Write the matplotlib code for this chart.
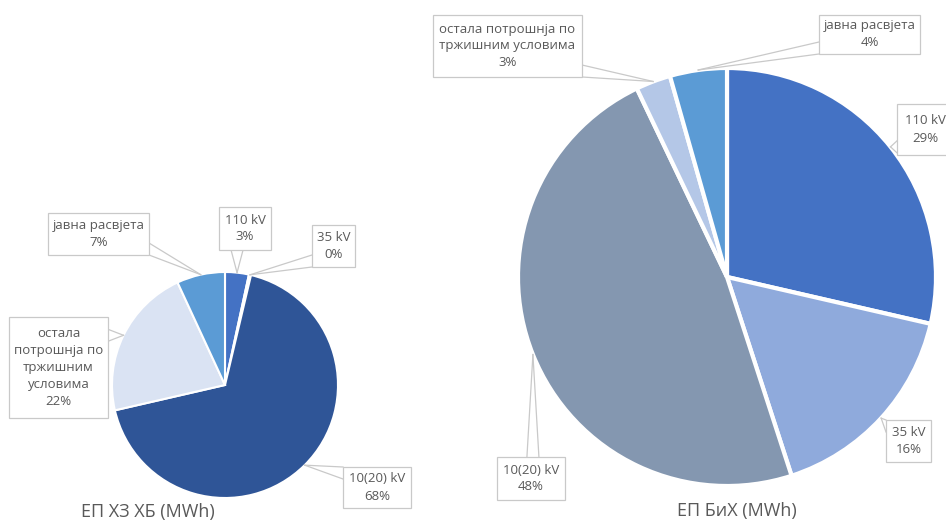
import numpy as np
import matplotlib
matplotlib.use("Agg")
import matplotlib.pyplot as plt
from matplotlib.patches import Rectangle

plt.rcParams['font.family'] = ['Open Sans', 'DejaVu Sans']

W, H = 946, 522

# подаци
categories = ['110 kV', '35 kV', '10(20) kV', 'остала потрошнја по тржишним условима', 'јавна расвјета']
left_values = [3.4, 0.3, 67.7, 21.7, 6.9]      # ЕП ХЗ ХБ, %
right_values = [28.6, 16.4, 47.9, 2.7, 4.4]    # ЕП БиХ, %
left_title = 'ЕП ХЗ ХБ (MWh)'
right_title = 'ЕП БиХ (MWh)'
left_colors = ['#4472C4', '#8FAADC', '#2F5597', '#DAE3F3', '#5B9BD5']
right_colors = ['#4472C4', '#8FAADC', '#8497B0', '#B4C7E7', '#5B9BD5']

# текст натписа (прелом редова као на слици)
left_names = ['110 kV', '35 kV', '10(20) kV', 'остала\nпотрошнја по\nтржишним\nусловима', 'јавна расвјета']
right_names = ['110 kV', '35 kV', '10(20) kV', 'остала потрошнја по\nтржишним условима', 'јавна расвјета']

# оквири натписа у пикселима слике (x0, y0, x1, y1)
left_boxes = [(219, 207, 271, 250), (312, 225, 355, 267), (343, 467, 411, 508),
              (9, 317, 108, 418), (48, 213, 149, 255)]
right_boxes = [(897, 104, 953, 155), (886, 420, 931, 462), (497, 457, 565, 500),
               (433, 15, 582, 77), (819, 15, 920, 54)]

TXT = '#595959'
EDGE = '#C9C9C9'


def callout(ax, anchor, box, g=6):
    x0, y0, x1, y1 = box
    ax_, ay = anchor
    cx, cy = (x0 + x1) / 2, (y0 + y1) / 2
    dx = (ax_ - cx) / ((x1 - x0) / 2)
    dy = (ay - cy) / ((y1 - y0) / 2)
    if abs(dx) > abs(dy):
        xs = x0 if dx < 0 else x1
        yc = np.clip(ay, y0 + g, y1 - g)
        pts = [(xs, yc - g), (xs, yc + g)]
    else:
        ys = y0 if dy < 0 else y1
        xc = np.clip(ax_, x0 + g, x1 - g)
        pts = [(xc - g, ys), (xc + g, ys)]
    for px, py in pts:
        ax.plot([ax_, px], [H - ay, H - py], color=EDGE, lw=0.9, zorder=3)
    ax.add_patch(Rectangle((x0, H - y1), x1 - x0, y1 - y0, facecolor='white',
                           edgecolor=EDGE, lw=0.9, zorder=4))


def draw_pie(ax, values, colors, names, boxes, center, radius, gap, title, title_pos):
    cx, cy = center
    wedges, _ = ax.pie(values, colors=colors, startangle=90, counterclock=False,
                       center=(cx, H - cy), radius=radius,
                       wedgeprops=dict(edgecolor='white', linewidth=gap))
    for w, v, name, box in zip(wedges, values, names, boxes):
        mid = np.deg2rad((w.theta1 + w.theta2) / 2)
        anchor = (cx + radius * np.cos(mid), cy - radius * np.sin(mid))
        callout(ax, anchor, box)
        x0, y0, x1, y1 = box
        ax.text((x0 + x1) / 2, H - (y0 + y1) / 2, f'{name}\n{round(v)}%',
                ha='center', va='center', color=TXT, fontsize=9.5,
                linespacing=1.4, zorder=5)
    ax.text(title_pos[0], H - title_pos[1], title, ha='center', va='center',
            color=TXT, fontsize=13)


fig = plt.figure(figsize=(W / 100, H / 100), dpi=100)
ax = fig.add_axes([0, 0, 1, 1])

draw_pie(ax, left_values, left_colors, left_names, left_boxes,
         (225, 385), 113, 1.5, left_title, (148, 512))
draw_pie(ax, right_values, right_colors, right_names, right_boxes,
         (727, 277), 209, 3, right_title, (737, 511))

ax.set_xlim(0, W)
ax.set_ylim(0, H)
ax.set_aspect('auto')
ax.axis('off')

fig.savefig('out.png', dpi=100, facecolor='white')
